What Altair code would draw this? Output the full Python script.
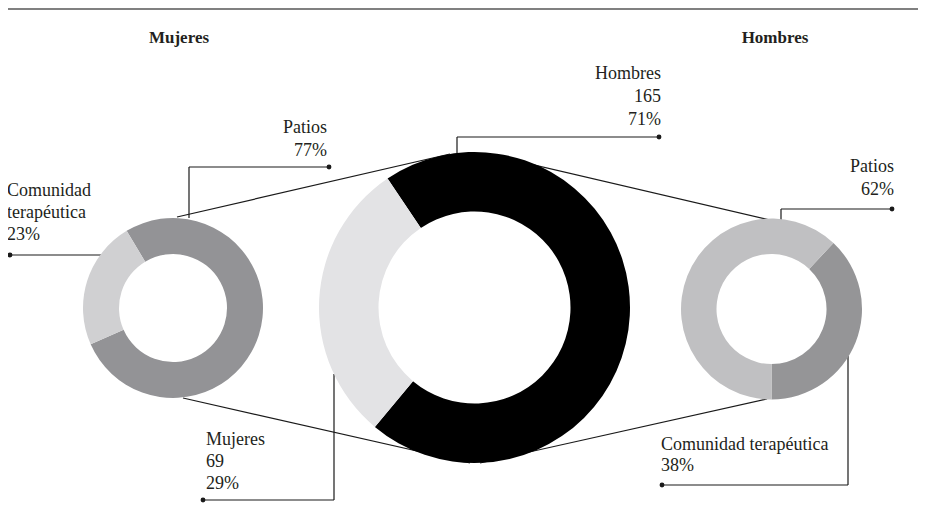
import math
import pandas as pd
import altair as alt

# ---------------- data ----------------
mujeres_cats = ["Patios", "Comunidad terapéutica"]
mujeres_pct = [77, 23]

total_cats = ["Hombres", "Mujeres"]
total_n = [165, 69]
total_pct = [71, 29]

hombres_cats = ["Patios", "Comunidad terapéutica"]
hombres_pct = [62, 38]

titles = ["Mujeres", "Hombres"]

# ---------------- helpers ----------------
OX, OY = 8, 8          # page margin: image px -> plot px
FONT = "Liberation Serif"


def X(v):
    return v - OX


def Y(v):
    return v - OY


def donut(cats, vals, colors, cx, cy, r_in, r_out, start_deg):
    df = pd.DataFrame({"cat": cats, "val": vals, "ord": list(range(len(cats)))})
    start = math.radians(start_deg)
    return alt.Chart(df).mark_arc(
        x=X(cx), y=Y(cy), innerRadius=r_in, outerRadius=r_out
    ).encode(
        theta=alt.Theta("val:Q", stack=True,
                        scale=alt.Scale(domain=[0, sum(vals)],
                                        range=[start, start + 2 * math.pi])),
        color=alt.Color("cat:N", scale=alt.Scale(domain=cats, range=colors), legend=None),
        order=alt.Order("ord:Q"),
    )


left = donut(mujeres_cats, mujeres_pct, ["#939396", "#d0d0d2"], 173, 308, 54, 90, -31)
center = donut(total_cats, total_n, ["#000000", "#e3e3e5"], 474.5, 307.5, 96, 155.5, -34)
right = donut(hombres_cats[::-1], hombres_pct[::-1], ["#959597", "#c0c0c2"], 771.5, 309, 55, 90.5,
              180 - hombres_pct[1] * 3.6)

# lines (connectors and leaders), image pixel coordinates
segs = [
    (177, 217, 450, 154),
    (500, 157, 770, 220),
    (183, 398, 470, 463),
    (480, 463, 767, 399),
    (189, 218, 189, 167), (189, 167, 329, 167),
    (10, 255, 102, 255),
    (457, 153, 457, 137), (457, 137, 659, 137),
    (334, 374, 334, 500), (334, 500, 203, 500),
    (781, 220, 781, 209), (781, 209, 892, 209),
    (848, 356, 848, 485), (848, 485, 662, 485),
]
seg_df = pd.DataFrame([{"x": X(a), "y": Y(b), "x2": X(c), "y2": Y(d)} for a, b, c, d in segs])
lines = alt.Chart(seg_df).mark_rule(color="#1a1a1a", strokeWidth=1.2).encode(
    x=alt.X("x:Q", scale=None, axis=None),
    y=alt.Y("y:Q", scale=None, axis=None),
    x2="x2:Q", y2="y2:Q",
)

top_df = pd.DataFrame([{"x": X(8), "y": Y(9), "x2": X(918), "y2": Y(9)}])
top_rule = alt.Chart(top_df).mark_rule(color="#808080", strokeWidth=2).encode(
    x=alt.X("x:Q", scale=None, axis=None),
    y=alt.Y("y:Q", scale=None, axis=None),
    x2="x2:Q", y2="y2:Q",
)

dots_xy = [(329, 167), (10, 255), (659, 137), (203, 500), (892, 209), (662, 485)]
dot_df = pd.DataFrame([{"x": X(a), "y": Y(b)} for a, b in dots_xy])
dots = alt.Chart(dot_df).mark_circle(color="#1a1a1a", size=24, opacity=1).encode(
    x=alt.X("x:Q", scale=None, axis=None),
    y=alt.Y("y:Q", scale=None, axis=None),
)

# text labels
right_rows = [
    (mujeres_cats[0], 327, 133), (f"{mujeres_pct[0]}%", 327, 156),
    (total_cats[0], 661, 79), (str(total_n[0]), 661, 102), (f"{total_pct[0]}%", 661, 125),
    (hombres_cats[0], 894, 172), (f"{hombres_pct[0]}%", 894, 195),
]
cw = mujeres_cats[1].split(" ")
left_rows = [
    (cw[0], 7, 196), (cw[1], 7, 218), (f"{mujeres_pct[1]}%", 7, 240),
    (total_cats[1], 206, 445), (str(total_n[1]), 206, 467), (f"{total_pct[1]}%", 206, 489),
    (hombres_cats[1], 661, 450), (f"{hombres_pct[1]}%", 661, 471),
]
title_rows = [(titles[0], 179, 43), (titles[1], 775, 43)]


def text_layer(rows, align, weight="normal", size=18):
    df = pd.DataFrame([{"t": t, "x": X(a), "y": Y(b)} for t, a, b in rows])
    return alt.Chart(df).mark_text(
        align=align, baseline="alphabetic", font=FONT, fontSize=size,
        fontWeight=weight, color="#231f20"
    ).encode(
        x=alt.X("x:Q", scale=None, axis=None),
        y=alt.Y("y:Q", scale=None, axis=None),
        text="t:N",
    )


chart = alt.layer(
    top_rule, lines, left, center, right, dots,
    text_layer(right_rows, "right"),
    text_layer(left_rows, "left"),
    text_layer(title_rows, "center", "bold", 17),
).resolve_scale(
    theta="independent", color="independent"
).properties(
    width=910, height=507, autosize=alt.AutoSizeParams(type="none"), padding=0,
    background="white"
).configure_view(stroke=None)

chart.save("out.html", embed_options={"renderer": "svg", "actions": False})
